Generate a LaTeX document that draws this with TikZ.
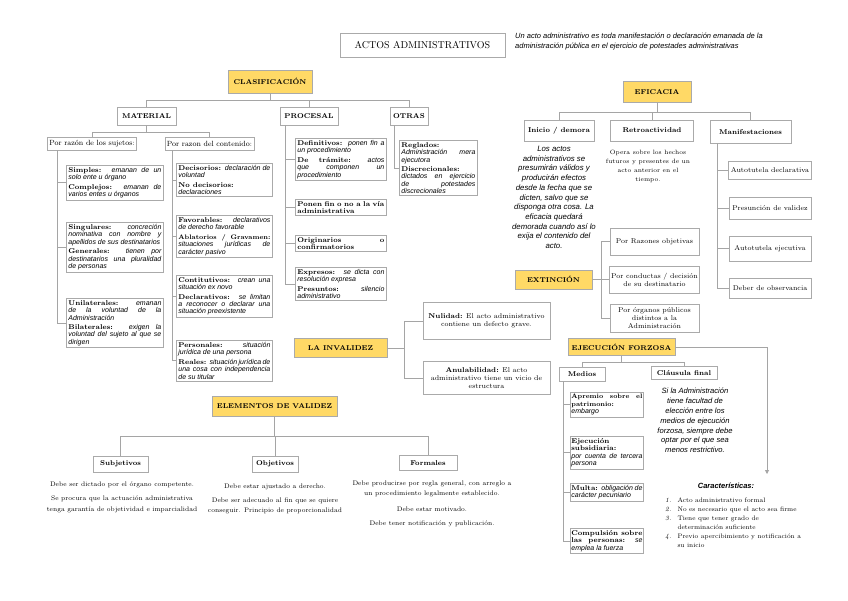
\documentclass[tikz,border=0pt]{standalone}
\usepackage{fontspec}
\newfontfamily\descfont{Liberation Sans}
\usetikzlibrary{arrows.meta}
\definecolor{headyellow}{RGB}{255,217,102}
\definecolor{linegray}{RGB}{165,165,165}
\definecolor{boxgray}{RGB}{170,170,170}
\newcommand{\dsc}[1]{{\descfont\itshape #1}}
\newcommand{\tit}[1]{{\fontsize{6.5}{7.4}\selectfont\bfseries #1}}
\hyphenpenalty=10000
\exhyphenpenalty=10000
\tolerance=9999

\begin{document}
\begin{tikzpicture}[x=1pt,y=-1pt,
  line/.style={draw=linegray,line width=0.9},
  box/.style={draw=boxgray,line width=0.8,fill=white,inner sep=2,font=\fontsize{7}{8}\selectfont},
  head/.style={draw=boxgray,line width=0.8,fill=headyellow,font=\bfseries\fontsize{7}{8}\selectfont},
  subbox/.style={box,font=\bfseries\fontsize{7}{8}\selectfont},
  item/.style={box,anchor=north west,align=justify,font=\fontsize{7}{7.4}\selectfont},
  razon/.style={box,font=\fontsize{7.5}{9}\selectfont,minimum height=13},
  optbox/.style={box,align=center,font=\fontsize{7}{8}\selectfont},
  nota/.style={align=center,inner sep=0,font=\fontsize{6.6}{10.5}\selectfont},
  italnota/.style={align=center,inner sep=0,anchor=north,font=\descfont\itshape\fontsize{7.8}{9.7}\selectfont}]
  \path[fill=white,use as bounding box](0,0)rectangle(848,600);

  \node[box,minimum width=165,minimum height=24,font=\fontsize{10}{12}\selectfont](titulo)at(422.5,45){ACTOS ADMINISTRATIVOS};
  \node[anchor=north west,align=left,inner sep=0,font=\descfont\itshape\fontsize{7.5}{10}\selectfont](definicion)at(515,33)
    {Un acto administrativo es toda manifestación o declaración emanada de la\\administración pública en el ejercicio de potestades administrativas};

  \node[head,minimum width=84,minimum height=23](clasif)at(270,81.5){CLASIFICACIÓN};
  \node[subbox,minimum width=59,minimum height=18](material)at(146.5,116){MATERIAL};
  \node[subbox,minimum width=58,minimum height=18](procesal)at(309,116){PROCESAL};
  \node[subbox,minimum width=38,minimum height=18](otras)at(409,116){OTRAS};
  \foreach \n in {material,procesal,otras}
    \draw[line](clasif.south)--++(0,7)-|(\n.north);

  \node[razon](sujetos)at(92,143.5){Por razón de los sujetos:};
  \node[razon](contenido)at(209.5,143.5){Por razon del contenido:};
  \foreach \n in {sujetos,contenido}
    \draw[line](material.south)--++(0,7)-|(\n.north);

  \node[item,text width=93](simples)at(66,165){\textbf{Simples:} \dsc{emanan de un solo ente u órgano}\\[2pt]\textbf{Complejos:} \dsc{emanan de varios entes u órganos}};
  \node[item,text width=93](singulares)at(66,222){\textbf{Singulares:} \dsc{concreción nominativa con nombre y apellidos de sus destinatarios}\\[2pt]\textbf{Generales:} \dsc{tienen por destinatarios una pluralidad de personas}};
  \node[item,text width=93](unilat)at(66,298){\textbf{Unilaterales:} \dsc{emanan de la voluntad de la Administración}\\[2pt]\textbf{Bilaterales:} \dsc{exigen la voluntad del sujeto al que se dirigen}};
  \foreach \n in {simples,singulares,unilat}
    \draw[line]([xshift=10]sujetos.south west)|-(\n.west);

  \node[item,text width=92](decis)at(176,163){\textbf{Decisorios:} \dsc{declaración de voluntad}\\[2pt]\textbf{No decisorios:}\\\dsc{declaraciones}};
  \node[item,text width=92](favor)at(176,215){\textbf{Favorables:} \dsc{declarativos de derecho favorable}\\[2pt]\tit{Ablatorios / Gravamen:} \dsc{situaciones jurídicas de carácter pasivo}};
  \node[item,text width=92](constit)at(176,275){\textbf{Contitutivos:} \dsc{crean una situación ex novo}\\[2pt]\textbf{Declarativos:} \dsc{se limitan a reconocer o declarar una situación preexistente}};
  \node[item,text width=92](person)at(176,340){\textbf{Personales:} \dsc{situación jurídica de una persona}\\[2pt]\textbf{Reales:} \dsc{situación jurídica de una cosa con independencia de su titular}};
  \foreach \n in {decis,favor,constit,person}
    \draw[line]([xshift=8]contenido.south west)|-(\n.west);

  \node[item,text width=87](defin)at(295,138){\textbf{Definitivos:} \dsc{ponen fin a un procedimiento}\\[2pt]\textbf{De trámite:} \dsc{actos que componen un procedimiento}};
  \node[item,text width=87](ponen)at(295,199){\textbf{Ponen fin o no a la vía administrativa}};
  \node[item,text width=87](orig)at(295,235){\textbf{Originarios o confirmatorios}};
  \node[item,text width=87](expres)at(295,267){\textbf{Expresos:} \dsc{se dicta con resolución expresa}\\[2pt]\textbf{Presuntos:} \dsc{silencio administrativo}};
  \foreach \n in {defin,ponen,orig,expres}
    \draw[line]([xshift=6]procesal.south west)|-(\n.west);

  \node[item,text width=74](reglados)at(399,140){\textbf{Reglados:}\\\dsc{Administración mera ejecutora}\\[2pt]\textbf{Discrecionales:} \dsc{dictados en ejercicio de potestades discrecionales}};
  \draw[line]([xshift=5]otras.south west)|-(reglados.west);

  \node[head,minimum width=93,minimum height=19](invalidez)at(340.5,348){LA INVALIDEZ};
  \node[optbox,minimum width=127,minimum height=37](nulidad)at(486.5,321){\textbf{Nulidad:} El acto administrativo\\contiene un defecto grave.};
  \node[optbox,minimum width=127,minimum height=33](anulab)at(486.5,378){\textbf{Anulabilidad:} El acto\\administrativo tiene un vicio de\\estructura};
  \foreach \n in {nulidad,anulab}
    \draw[line](invalidez.east)--++(17,0)|-(\n.west);

  \node[head,minimum width=125,minimum height=20](elementos)at(274.5,406.5){ELEMENTOS DE VALIDEZ};
  \node[subbox,minimum width=55,minimum height=16](subjetivos)at(120.5,464){Subjetivos};
  \node[subbox,minimum width=46,minimum height=16](objetivos)at(275,464){Objetivos};
  \node[subbox,minimum width=58,minimum height=15](formales)at(428,463){Formales};
  \foreach \n in {subjetivos,objetivos,formales}
    \draw[line](elementos.south)--++(0,19.5)-|(\n.north);
  \node[nota](subjnota)at(122,485){Debe ser dictado por el órgano competente.};
  \node[nota](subjnotab)at(122,504.5){Se procura que la actuación administrativa\\tenga garantía de objetividad e imparcialidad};
  \node[nota](objnota)at(275,487){Debe estar ajustado a derecho.};
  \node[nota](objnotab)at(275,506){Debe ser adecuado al fin que se quiere\\conseguir. Principio de proporcionalidad};
  \node[nota](formnota)at(432,489){Debe producirse por regla general, con arreglo a\\un procedimiento legalmente establecido.};
  \node[nota](formnotab)at(432,509){Debe estar motivado.};
  \node[nota](formnotac)at(432,524){Debe tener notificación y publicación.};

  \node[head,minimum width=68,minimum height=21](eficacia)at(657,92){EFICACIA};
  \node[subbox,minimum width=70,minimum height=21](inicio)at(559,130.5){Inicio / demora};
  \node[subbox,minimum width=83,minimum height=21](retro)at(652,130.5){Retroactividad};
  \node[subbox,minimum width=81,minimum height=23](manif)at(750.5,132){Manifestaciones};
  \foreach \n in {inicio,retro,manif}
    \draw[line](eficacia.south)--++(0,10)-|(\n.north);
  \node[italnota](inicionota)at(554,146){Los actos\\administrativos se\\presumirán válidos y\\producirán efectos\\desde la fecha que se\\dicten, salvo que se\\disponga otra cosa. La\\eficacia quedará\\demorada cuando así lo\\exija el contenido del\\acto.};
  \node[nota,anchor=north,font=\fontsize{6.2}{9}\selectfont](retronota)at(648,150){Opera sobre los hechos\\futuros y presentes de un\\acto anterior en el\\tiempo.};
  \node[box,minimum width=82,minimum height=18](autodecl)at(770,170.5){Autotutela declarativa};
  \node[box,minimum width=82,minimum height=22](presun)at(770,208){Presunción de validez};
  \node[box,minimum width=82,minimum height=25](autoejec)at(770,248.5){Autotutela ejecutiva};
  \node[box,minimum width=82,minimum height=20](deber)at(770,288){Deber de observancia};
  \foreach \n in {autodecl,presun,autoejec,deber}
    \draw[line]([xshift=8]manif.south west)|-(\n.west);

  \node[head,minimum width=77,minimum height=19](extincion)at(553.5,279.5){EXTINCIÓN};
  \node[optbox,minimum width=89,minimum height=27](razones)at(654.5,241.5){Por Razones objetivas};
  \node[optbox,minimum width=89,minimum height=27](conductas)at(654.5,279.5){Por conductas / decisión\\de su destinatario};
  \node[optbox,minimum width=89,minimum height=28](organos)at(654.5,318){Por órganos públicos\\distintos a la\\Administración};
  \foreach \n in {razones,conductas,organos}
    \draw[line](extincion.east)--++(9,0)|-(\n.west);

  \node[head,minimum width=107,minimum height=17](ejecucion)at(621.5,347){EJECUCIÓN FORZOSA};
  \node[subbox,minimum width=46,minimum height=14](medios)at(582,374.5){Medios};
  \node[subbox,minimum width=66,minimum height=13](clausula)at(684,373){Cláusula final};
  \foreach \n in {medios,clausula}
    \draw[line](ejecucion.south)--++(0,7)-|(\n.north);
  \node[item,text width=71,inner xsep=1](apremio)at(570,392){\tit{Apremio sobre el patrimonio:}\\\dsc{embargo}};
  \node[item,text width=71,inner xsep=1](subsid)at(570,436){\textbf{Ejecución subsidiaria:} \dsc{por cuenta de tercera persona}};
  \node[item,text width=71,inner xsep=1](multa)at(570,483){\textbf{Multa:} \dsc{obligación de carácter pecuniario}};
  \node[item,text width=71,inner xsep=1](compul)at(570,528){\textbf{Compulsión sobre las personas:} \dsc{se emplea la fuerza}};
  \foreach \n in {apremio,subsid,multa,compul}
    \draw[line]([xshift=5]medios.south west)|-(\n.west);
  \node[italnota,font=\descfont\itshape\fontsize{7.6}{9.8}\selectfont](clausulanota)at(695,388){Si la Administración\\tiene facultad de\\elección entre los\\medios de ejecución\\forzosa, siempre debe\\optar por el que sea\\menos restrictivo.};

  \coordinate(caracflecha)at(767,474);
  \draw[line,-{Triangle[length=4,width=4]}](ejecucion.east)-|(caracflecha);
  \node[inner sep=0,font=\descfont\bfseries\itshape\fontsize{7.5}{9}\selectfont](carac)at(726,486){Características:};
  \node[anchor=north west,inner sep=0,font=\fontsize{6.5}{9}\selectfont](lista)at(665,496){%
    \begin{tabular}{@{}l@{\hspace{6pt}}l@{}}
      \textit{1.}&Acto administrativo formal\\
      \textit{2.}&No es necesario que el acto sea firme\\
      \textit{3.}&Tiene que tener grado de\\
      &determinación suficiente\\
      \textit{4.}&Previo apercibimiento y notificación a\\
      &su inicio
    \end{tabular}};
\end{tikzpicture}
\end{document}
